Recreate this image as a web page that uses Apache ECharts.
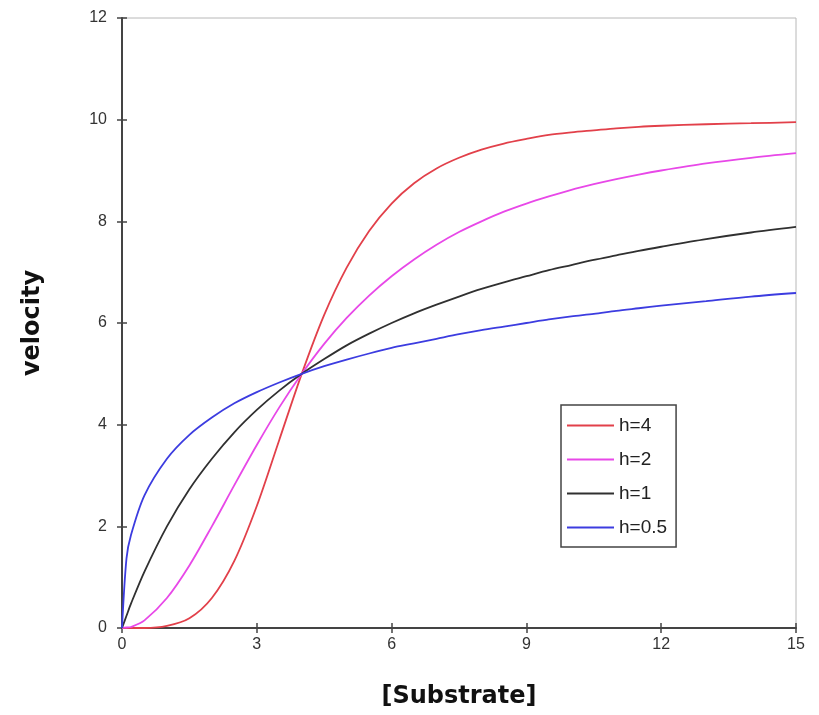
<!DOCTYPE html>
<html>
<head>
<meta charset="utf-8">
<script src="https://cdn.jsdelivr.net/npm/echarts@6/dist/echarts.min.js"></script>
<style>
  html, body { margin: 0; padding: 0; background: #fff; }
  #chart { width: 819px; height: 715px; }
</style>
</head>
<body>
<div id="chart"></div>
<script>
// substrate concentrations where the curves were read
const substrate = [0, 0.1, 0.2, 0.5, 1, 1.5, 2, 2.5, 3, 3.5, 4, 4.5, 5, 5.5, 6, 6.5, 7, 7.5, 8, 8.5, 9, 9.5, 10, 10.5, 11, 11.5, 12, 13, 14, 15];

// velocity
const h4 = [0, 0, 0, 0, 0.04, 0.19, 0.59, 1.32, 2.40, 3.70, 5.00, 6.16, 7.09, 7.81, 8.35, 8.75, 9.04, 9.25, 9.41, 9.53, 9.62, 9.70, 9.75, 9.79, 9.83, 9.86, 9.88, 9.91, 9.93, 9.95];
const h2 = [0, 0.01, 0.02, 0.15, 0.59, 1.23, 2.00, 2.81, 3.60, 4.34, 5.00, 5.59, 6.10, 6.54, 6.92, 7.25, 7.54, 7.79, 8.00, 8.19, 8.35, 8.49, 8.62, 8.73, 8.83, 8.92, 9.00, 9.14, 9.25, 9.34];
const h1 = [0, 0.24, 0.48, 1.11, 2.00, 2.73, 3.33, 3.85, 4.29, 4.67, 5.00, 5.29, 5.56, 5.79, 6.00, 6.19, 6.36, 6.52, 6.67, 6.80, 6.92, 7.04, 7.14, 7.24, 7.33, 7.42, 7.50, 7.65, 7.78, 7.89];
const h05 = [0, 1.37, 1.83, 2.61, 3.33, 3.80, 4.14, 4.42, 4.64, 4.83, 5.00, 5.15, 5.28, 5.40, 5.51, 5.60, 5.69, 5.78, 5.86, 5.93, 6.00, 6.07, 6.13, 6.18, 6.24, 6.29, 6.34, 6.43, 6.52, 6.59];

const seriesNames = ['h=4', 'h=2', 'h=1', 'h=0.5'];
const seriesColors = ['#e2404a', '#e848e8', '#303030', '#3c3ce0'];

const chart = echarts.init(document.getElementById('chart'), null, { renderer: 'canvas' });

const pairs = (ys) => substrate.map((x, i) => [x, ys[i]]);
const font = 'Liberation Sans, Arial, sans-serif';
const titleFont = 'DejaVu Sans, Arial, sans-serif';

const axisCommon = {
  type: 'value',
  splitLine: { show: false },
};

const option = {
  backgroundColor: '#fff',
  animation: false,
  grid: {
    left: 122, right: 23, top: 18, bottom: 87,
    show: true, borderColor: '#b8b8b8', borderWidth: 1,
  },
  legend: {
    orient: 'vertical',
    left: 561, top: 405,
    padding: [11, 9, 10, 6],
    icon: 'rect',
    itemWidth: 47, itemHeight: 2, itemGap: 15,
    borderColor: '#444', borderWidth: 1.5,
    textStyle: { fontFamily: font, fontSize: 19, color: '#222' },
    data: seriesNames,
  },
  xAxis: [
    {
      ...axisCommon,
      min: 0, max: 15, interval: 3,
      name: '[Substrate]', nameLocation: 'middle', nameGap: 57,
      nameTextStyle: { fontFamily: titleFont, fontSize: 24, fontWeight: 'bold', color: '#111' },
      axisLine: { lineStyle: { color: '#444', width: 2 } },
      axisTick: { show: true, length: 5, lineStyle: { color: '#444', width: 1.5 } },
      axisLabel: { fontFamily: font, fontSize: 16, color: '#333', margin: 9 },
    },
    {
      ...axisCommon,
      min: 0, max: 15, interval: 3,
      position: 'bottom',
      axisLine: { show: false },
      axisTick: { show: true, inside: true, length: 5, lineStyle: { color: '#444', width: 1.5 } },
      axisLabel: { show: false },
    },
  ],
  yAxis: [
    {
      ...axisCommon,
      min: 0, max: 12, interval: 2,
      name: 'velocity', nameLocation: 'middle', nameGap: 77,
      nameTextStyle: { fontFamily: titleFont, fontSize: 24, fontWeight: 'bold', color: '#111' },
      axisLine: { show: true, lineStyle: { color: '#444', width: 2 } },
      axisTick: { show: true, length: 5, lineStyle: { color: '#444', width: 1.5 } },
      axisLabel: { fontFamily: font, fontSize: 16, color: '#333', margin: 15 },
    },
    {
      ...axisCommon,
      min: 0, max: 12, interval: 2,
      position: 'left',
      axisLine: { show: false },
      axisTick: { show: true, inside: true, length: 5, lineStyle: { color: '#444', width: 1.5 } },
      axisLabel: { show: false },
    },
  ],
  series: [h4, h2, h1, h05].map((ys, i) => ({
    name: seriesNames[i],
    type: 'line',
    data: pairs(ys),
    symbol: 'none',
    smooth: 0.3,
    color: seriesColors[i],
    lineStyle: { width: 1.8, color: seriesColors[i] },
  })),
};

chart.setOption(option);
</script>
</body>
</html>
